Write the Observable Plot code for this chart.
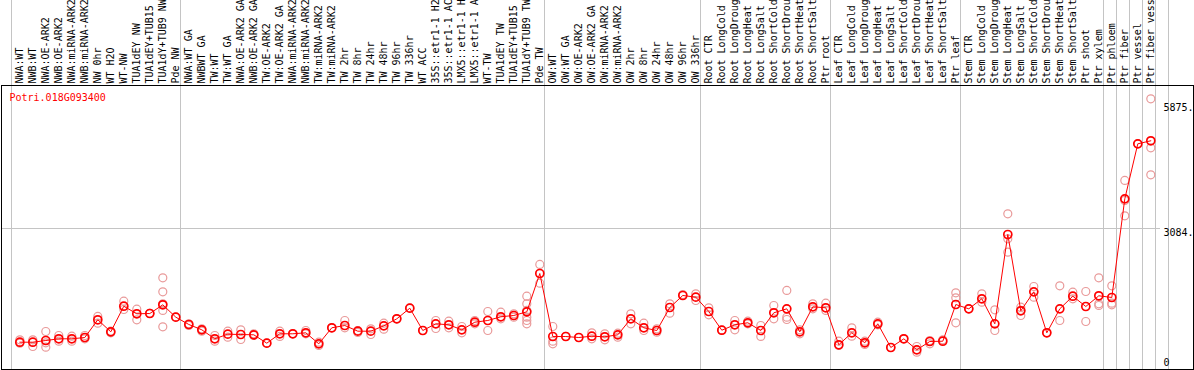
<!DOCTYPE html>
<html><head><meta charset="utf-8">
<script src="https://cdn.jsdelivr.net/npm/d3@7"></script>
<script src="https://cdn.jsdelivr.net/npm/@observablehq/plot@0.6"></script>
<style>body{margin:0;background:#fff} #chart svg{display:block}</style>
</head><body><div id="chart"></div>
<script>
const gene = "Potri.018G093400";
const labels = [
"NWA:WT","NWB:WT","NWA:OE-ARK2","NWB:OE-ARK2","NWA:miRNA-ARK2","NWB:miRNA-ARK2","NW 0hr","WT H2O","WT-NW","TUA1dEY NW",
"TUA1dEY+TUB15 NW","TUA1dY+TUB9 NW","Pde NW","NWA:WT GA","NWBWT GA","TW:WT","TW:WT GA","NWA:OE-ARK2 GA","NWB:OE-ARK2 GA","TW:OE-ARK2",
"TW:OE-ARK2 GA","NWA:miRNA-ARK2","NWB:miRNA-ARK2","TW:miRNA-ARK2","TW:miRNA-ARK2","TW 2hr","TW 8hr","TW 24hr","TW 48hr","TW 96hr",
"TW 336hr","WT ACC","35S::etr1-1 H2O","35S::etr1-1 ACC","LMX5::etr1-1 H2O","LMX5::etr1-1 ACC","WT-TW","TUA1dEY TW","TUA1dEY+TUB15 TW","TUA1dY+TUB9 TW",
"Pde TW","OW:WT","OW:WT GA","OW:OE-ARK2","OW:OE-ARK2 GA","OW:miRNA-ARK2","OW:miRNA-ARK2","OW 2hr","OW 8hr","OW 24hr",
"OW 48hr","OW 96hr","OW 336hr","Root CTR","Root LongCold","Root LongDrought","Root LongHeat","Root LongSalt","Root ShortCold","Root ShortDrought",
"Root ShortHeat","Root ShortSalt","Ptr root","Leaf CTR","Leaf LongCold","Leaf LongDrought","Leaf LongHeat","Leaf LongSalt","Leaf ShortCold","Leaf ShortDrought",
"Leaf ShortHeat","Leaf ShortSalt","Ptr leaf","Stem CTR","Stem LongCold","Stem LongDrought","Stem LongHeat","Stem LongSalt","Stem ShortCold","Stem ShortDrought",
"Stem ShortHeat","Stem ShortSalt","Ptr shoot","Ptr xylem","Ptr phloem","Ptr fiber","Ptr vessel","Ptr fiber vessel"
];
const means = [
543,543,581,619,619,648,1044,775,1347,1178,
1184,1379,1102,939,820,619,722,715,708,521,
731,731,753,507,865,916,789,789,909,1066,
1303,804,954,932,820,990,1028,1111,1140,1222,
2078,670,670,648,677,664,708,1066,865,804,
1318,1587,1549,1229,811,932,977,804,1200,1289,
775,1334,1312,485,753,530,954,425,619,373,
559,565,1385,1289,1513,954,2950,1245,1669,753,
1289,1571,1341,1580,1542,3747,4976,5044
];
const reps = [
[596,522],[596,447],[782,529,432],[693,566],[678,566],[693,618],[1118,969],[790,752],[1460,1274],[1281,1043],
[1185,1185],[1982,1669,1401,1252,887],[1103],[954,916],[842,790],[693,566],[790,656],[820,603],[730,693],[522],
[790,671],[730],[805,730],[544,469],[864],[1028,864],[805,760],[842,715],[969,834],[1065],
[1304],[805],[1028,849],[1013,864],[894,752],[1028,954],[1229,805],[1214,1065],[1177,1103],[1572,1401,1252,1103,1028,954],
[2280,1863],[894,566,507],[671],[648],[752,618],[730,596],[745,656],[1177,954],[969,805],[842,767],
[1401,1192],[1609],[1624,1475],[1311,1155],[812],[1028,820],[1013,954],[916,671],[1363,1065],[1699,1103,1050],
[820,730],[1401,1289],[1416,1252],[566,469],[864,678],[566,492],[991,931],[425],[618],[447,320],
[581,507],[596],[1646,1535,976],[1289],[1624,1438],[1267,805],[3412,2853,2555],[1326,1252,1140],[1788,1550],[752],
[1803,1028],[1661,1512],[1676,1006],[1982,1401,1363],[1803,1416,1378],[4157,3710,3367],[4977],[5982,4887,4284]
];
const groupSizes = [13,28,12,10,10,11,1,1,1,1,1];
const yTicks = [0,3084,5875];
const yTickLabels = ["0","3084.","5875."];
const gridValues = [3084];

const meanData = labels.map((label,i)=>({i,label,v:means[i]}));
const repData = reps.flatMap((r,i)=>r.map(v=>({i,v})));
const bounds = d3.cumsum([0,...groupSizes]).map(c=>c-0.5);
const tickData = yTicks.map((v,k)=>({v,t:yTickLabels[k]}));

const chart = Plot.plot({
  width:1194, height:370,
  marginLeft:1, marginRight:1, marginTop:85, marginBottom:1,
  x:{type:"linear", domain:[0,labels.length-1], range:[19.3,1150.3], axis:null},
  y:{type:"linear", domain:[0,6257], range:[366,86], axis:null},
  style:{fontFamily:"'DejaVu Sans Mono', monospace", fontSize:"10px", background:"white", color:"black"},
  marks:[
    Plot.ruleX(bounds,{x:d=>d, stroke:"#c4c4c4", strokeWidth:1, dx:-1.8, insetTop:-85}),
    Plot.ruleY(gridValues,{y:d=>d, stroke:"#c4c4c4", strokeWidth:1, insetRight:33}),
    Plot.dot(repData,{x:"i", y:"v", r:4, stroke:"#e99a9a", strokeWidth:1.2, fill:"none"}),
    Plot.line(meanData,{x:"i", y:"v", stroke:"#ff0000", strokeWidth:1}),
    Plot.dot(meanData,{x:"i", y:"v", r:4, stroke:"#ff0000", strokeWidth:1.7, fill:"none"}),
    Plot.frame({stroke:"black", strokeWidth:1}),
    Plot.text(meanData,{x:"i", text:"label", frameAnchor:"top", dy:-2, rotate:-90, textAnchor:"start", lineAnchor:"middle", fill:"black"}),
    Plot.text([gene],{text:d=>d, frameAnchor:"top-left", dx:8, dy:12, textAnchor:"start", lineAnchor:"middle", fill:"#ff0000"}),
    Plot.text(tickData.filter(d=>d.v>0),{y:"v", text:"t", frameAnchor:"right", dx:-30, dy:4.5, textAnchor:"start", lineAnchor:"middle", fill:"black"}),
    Plot.text(tickData.filter(d=>d.v===0),{y:"v", text:"t", frameAnchor:"right", dx:-30, dy:-4, textAnchor:"start", lineAnchor:"middle", fill:"black"})
  ]
});
document.getElementById("chart").appendChild(chart);
</script>
</body></html>
